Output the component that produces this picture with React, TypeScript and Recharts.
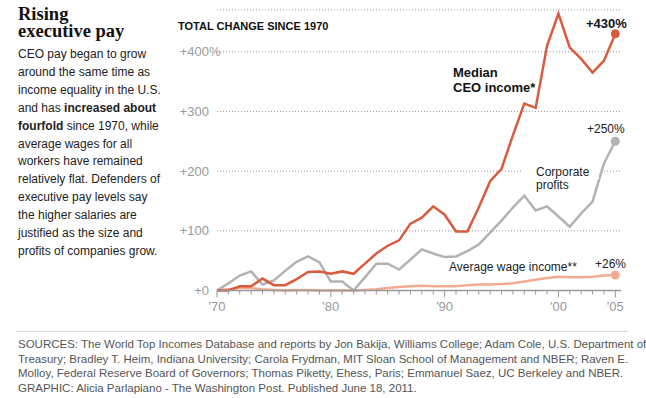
import { CartesianGrid, Line, LineChart, XAxis, YAxis } from "recharts";

const years = [
  1970, 1971, 1972, 1973, 1974, 1975, 1976, 1977, 1978, 1979,
  1980, 1981, 1982, 1983, 1984, 1985, 1986, 1987, 1988, 1989,
  1990, 1991, 1992, 1993, 1994, 1995, 1996, 1997, 1998, 1999,
  2000, 2001, 2002, 2003, 2004, 2005,
];

// percent change since 1970
const ceoIncome = [
  0, 0, 7, 7, 20, 9, 9, 19, 31, 32,
  28, 32, 28, 45, 62, 75, 84, 112, 122, 141,
  127, 99, 99, 139, 183, 204, 260, 313, 306, 410,
  464, 407, 388, 365, 385, 430,
];
const corporateProfits = [
  0, 12, 25, 32, 10, 17, 33, 48, 57, 47,
  15, 15, 0, 22, 45, 45, 35, 52, 69, 62,
  56, 57, 66, 77, 97, 117, 139, 159, 134, 141,
  124, 107, 129, 149, 213, 250,
];
const wageIncome = [
  0, 2, 4, 4, 2, 1, 0, 1, 1, 0,
  0, 0, 0, 1, 2, 4, 6, 7, 8, 7,
  7, 7, 9, 10, 10, 11, 12, 15, 18, 21,
  23, 22, 22, 23, 25, 26,
];

const yTicks = [0, 100, 200, 300, 400];
const labelYears = [1970, 1980, 1990, 2000, 2005];
const labelText = ["'70", "'80", "'90", "'00", "'05"];

const data = years.map((year, i) => ({
  year,
  ceo: ceoIncome[i],
  profits: corporateProfits[i],
  wage: wageIncome[i],
}));

const SANS = "'Liberation Sans', Arial, Helvetica, sans-serif";
const RED = "#d95b3e";
const GRAY = "#b2b2b2";
const SALMON = "#f2ab93";

function YTick({ y, payload }: any) {
  const v = payload.value;
  return (
    <g>
      <text x={209} y={y} dy={4.5} textAnchor="end" fill="#999" fontSize={13} fontFamily={SANS}>
        {`+${v}`}
      </text>
      {v === 400 && (
        <text x={209} y={y} dy={4.5} textAnchor="start" fill="#999" fontSize={13} fontFamily={SANS}>
          %
        </text>
      )}
    </g>
  );
}

function XTick({ x, y, payload }: any) {
  const idx = labelYears.indexOf(payload.value);
  const major = idx >= 0;
  return (
    <g>
      <line x1={x} x2={x} y1={y} y2={y + (major ? 7 : 4)} stroke="#999" strokeWidth={1} />
      {major && (
        <text x={x} y={y + 20} textAnchor="middle" fill="#999" fontSize={13} fontFamily={SANS}>
          {labelText[idx]}
        </text>
      )}
    </g>
  );
}

function endDot(color: string) {
  return (props: any) => {
    const { cx, cy, index } = props;
    if (index !== data.length - 1) return <g key={`d${index}`} />;
    return <circle key={`d${index}`} cx={cx} cy={cy} r={4.5} fill={color} stroke="none" />;
  };
}

const abs = (left: number, top: number, extra: any = {}) => ({
  position: "absolute" as const,
  left,
  top,
  whiteSpace: "nowrap" as const,
  ...extra,
});

export default function App() {
  return (
    <div
      style={{
        position: "absolute",
        left: 0,
        top: 0,
        width: 646,
        height: 398,
        background: "#fff",
        fontFamily: SANS,
        color: "#222",
        overflow: "hidden",
      }}
    >
      <div style={{ position: "absolute", left: 0, top: 0 }}>
        <LineChart
          width={646}
          height={398}
          data={data}
          margin={{ top: 10, right: 25, bottom: 77.5, left: 0 }}
        >
          <CartesianGrid
            horizontal
            vertical={false}
            stroke="#999"
            strokeDasharray="1 2"
          />
          <XAxis
            dataKey="year"
            type="number"
            domain={[1970, 2005.5]}
            ticks={years}
            interval={0}
            tickSize={0}
            tickMargin={0}
            tickLine={false}
            axisLine={{ stroke: "#999", strokeWidth: 1.5 }}
            tick={<XTick />}
            height={30}
          />
          <YAxis
            domain={[0, 470]}
            ticks={yTicks}
            width={217}
            axisLine={false}
            tickLine={false}
            tick={<YTick />}
          />
          <Line
            dataKey="wage"
            stroke={SALMON}
            strokeWidth={2.5}
            dot={endDot(SALMON)}
            activeDot={false}
            isAnimationActive={false}
          />
          <Line
            dataKey="profits"
            stroke={GRAY}
            strokeWidth={2.5}
            dot={endDot(GRAY)}
            activeDot={false}
            isAnimationActive={false}
          />
          <Line
            dataKey="ceo"
            stroke={RED}
            strokeWidth={2.5}
            dot={endDot(RED)}
            activeDot={false}
            isAnimationActive={false}
          />
        </LineChart>
      </div>

      {/* left column */}
      <div
        style={abs(18, 6, {
          fontFamily: "'Liberation Serif', 'Times New Roman', serif",
          fontWeight: 700,
          fontSize: 18.5,
          lineHeight: "16.5px",
          color: "#111",
        })}
      >
        Rising
        <br />
        executive pay
      </div>
      <div style={abs(18, 46, { fontSize: 12, lineHeight: "17.9px", color: "#222" })}>
        CEO pay began to grow
        <br />
        around the same time as
        <br />
        income equality in the U.S.
        <br />
        and has <b>increased about</b>
        <br />
        <b>fourfold</b> since 1970, while
        <br />
        average wages for all
        <br />
        workers have remained
        <br />
        relatively flat. Defenders of
        <br />
        executive pay levels say
        <br />
        the higher salaries are
        <br />
        justified as the size and
        <br />
        profits of companies grow.
      </div>

      {/* chart labels */}
      <div style={abs(178, 20.7, { fontSize: 11, lineHeight: "11px", fontWeight: 700, color: "#111" })}>
        TOTAL CHANGE SINCE 1970
      </div>
      <div style={abs(586, 17.3, { fontSize: 13, lineHeight: "13px", fontWeight: 700, color: "#111" })}>
        +430%
      </div>
      <div style={abs(453, 65.3, { fontSize: 13, lineHeight: "15px", fontWeight: 700, color: "#111" })}>
        Median
        <br />
        CEO income*
      </div>
      <div style={abs(587, 123.2, { fontSize: 12, lineHeight: "12px", color: "#222" })}>+250%</div>
      <div style={abs(523, 165.8, { fontSize: 12, lineHeight: "13.5px", color: "#222" })}>
        <span style={{ background: "#fff", paddingLeft: 13, paddingRight: 10 }}>Corporate</span>
        <br />
        <span style={{ paddingLeft: 13 }}>profits</span>
      </div>
      <div style={abs(449, 260.5, { fontSize: 12, lineHeight: "12px", color: "#222" })}>
        Average wage income**
      </div>
      <div style={abs(595, 257.5, { fontSize: 12, lineHeight: "12px", color: "#222" })}>+26%</div>

      {/* footer */}
      <div style={abs(16, 331, { width: 612, height: 1, background: "#d8d8d8" })} />
      <div style={abs(18, 337, { fontSize: 11.5, lineHeight: "14.7px", color: "#555" })}>
        SOURCES: The World Top Incomes Database and reports by Jon Bakija, Williams College; Adam Cole, U.S. Department of
        <br />
        Treasury; Bradley T. Heim, Indiana University; Carola Frydman, MIT Sloan School of Management and NBER; Raven E.
        <br />
        Molloy, Federal Reserve Board of Governors; Thomas Piketty, Ehess, Paris; Emmanuel Saez, UC Berkeley and NBER.
        <br />
        GRAPHIC: Alicia Parlapiano - The Washington Post. Published June 18, 2011.
      </div>
    </div>
  );
}
